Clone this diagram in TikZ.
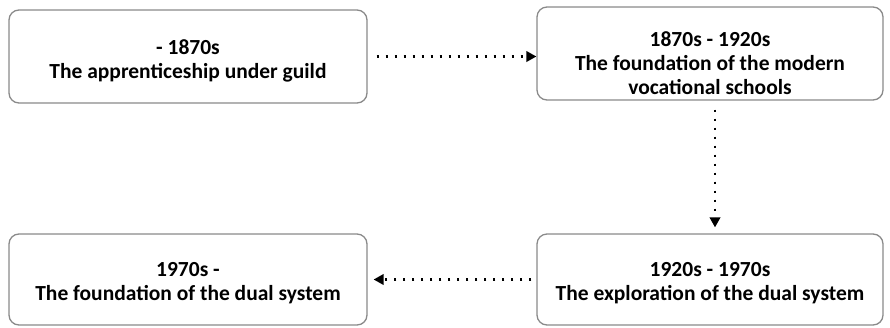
\documentclass[tikz,border=0pt]{standalone}
\usepackage{fontspec}
\setmainfont{Carlito}
\usetikzlibrary{arrows.meta}
\definecolor{boxline}{RGB}{138,138,138}
\tikzset{
  stage/.style={draw=boxline, line width=1.3pt, rounded corners=10pt, fill=white},
  stagetext/.style={align=center, font=\bfseries\fontsize{21.5pt}{24pt}\selectfont, inner sep=0pt},
  flow/.style={line width=2.2pt, dash pattern=on 2.2pt off 6.8pt,
    -{Triangle[length=10pt,width=10.5pt]}},
}
\begin{document}
\begin{tikzpicture}[x=1pt,y=-1pt]
  \useasboundingbox (0,0) rectangle (890,327);
  % stage boxes
  \node[stage, minimum width=358pt, minimum height=93pt] (s1) at (188,56.5) {};
  \node[stage, minimum width=346pt, minimum height=93pt] (s2) at (710,53.5) {};
  \node[stage, minimum width=346pt, minimum height=91pt] (s3) at (710,279.5) {};
  \node[stage, minimum width=358pt, minimum height=91pt] (s4) at (188,279.5) {};
  % stage labels
  \node[stagetext] (t1) at (188,60.5) {- 1870s\\The apprenticeship under guild};
  \node[stagetext] (t2) at (710,63) {1870s - 1920s\\The foundation of the modern\\vocational schools};
  \node[stagetext] (t3) at (710,283.5) {1920s - 1970s\\The exploration of the dual system};
  \node[stagetext] (t4) at (188,283.5) {1970s -\\The foundation of the dual system};
  % dotted connectors
  \draw[flow, shorten <=9pt] (s1.east) -- (s1.east -| s2.west);
  \draw[flow, shorten <=9pt, shorten >=6pt] ([xshift=5pt]s2.south) -- ([xshift=5pt]s3.north);
  \draw[flow, shorten <=5pt, shorten >=6pt] (s3.west) -- (s3.west -| s4.east);
\end{tikzpicture}
\end{document}
